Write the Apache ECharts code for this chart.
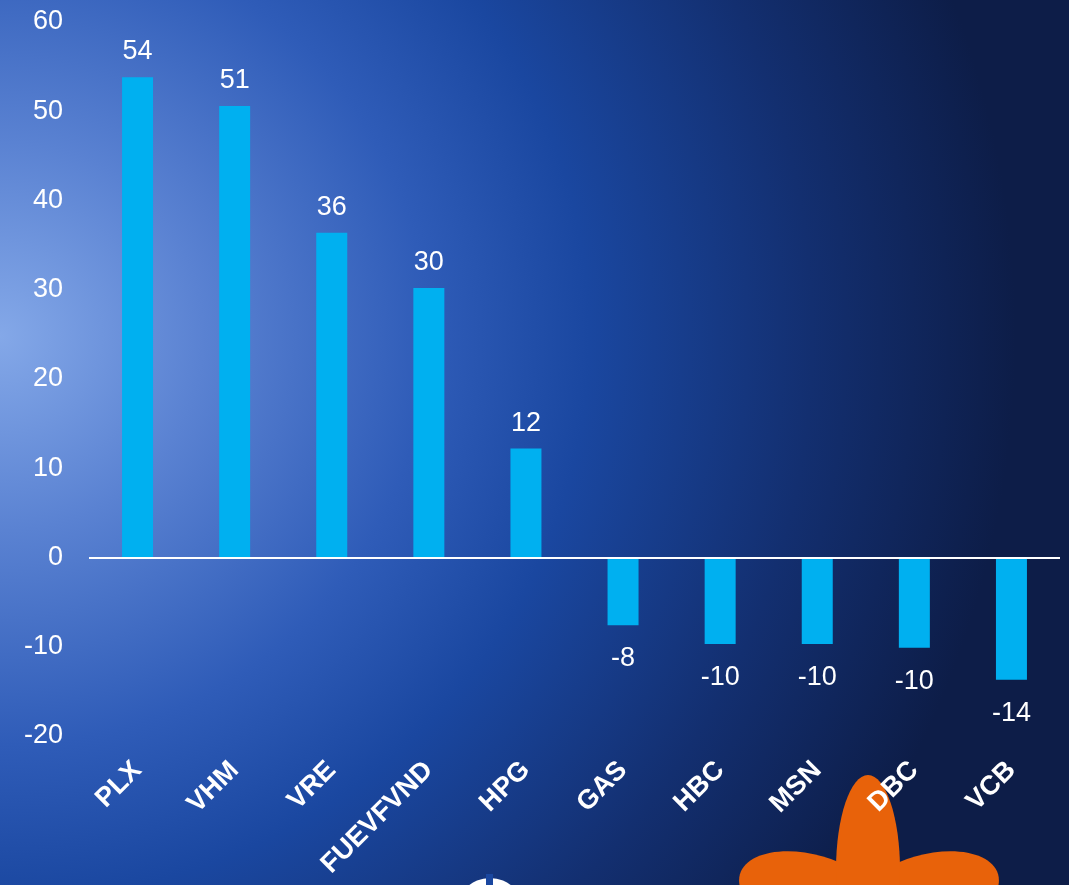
<!DOCTYPE html>
<html>
<head>
<meta charset="utf-8">
<script src="https://cdn.jsdelivr.net/npm/echarts@6/dist/echarts.min.js"></script>
<style>
html,body{margin:0;padding:0;width:1069px;height:885px;overflow:hidden;}
#chart{width:1069px;height:885px;
background: radial-gradient(ellipse 95% 110% at 0% 38%, #84a8e8 0%, #5a82d2 20%, #2f5cb8 42%, #1a47a0 58%, #132f70 80%, #0d1d48 100%);}
</style>
</head>
<body>
<div id="chart"></div>
<script>
const categories = ['PLX','VHM','VRE','FUEVFVND','HPG','GAS','HBC','MSN','DBC','VCB'];
const values = [53.8, 50.6, 36.4, 30.2, 12.2, -7.6, -9.7, -9.7, -10.1, -13.7];
const yTicks = {min: -20, max: 60, interval: 10};

const chart = echarts.init(document.getElementById('chart'), null, {renderer: 'canvas'});
const FONT = '"Liberation Sans", Arial, sans-serif';

const seriesData = values.map(v => ({
  value: v,
  label: v >= 0 ? {position: 'top', distance: 12} : {position: 'bottom', distance: 20}
}));

chart.setOption({
  backgroundColor: 'transparent',
  animation: false,
  grid: {left: 89, right: 9, top: 22, bottom: 149, containLabel: false},
  xAxis: {
    type: 'category',
    data: categories,
    axisLine: {show: false, onZero: false},
    axisTick: {show: false},
    axisLabel: {
      rotate: 45, margin: 30, color: '#ffffff', fontSize: 27, fontWeight: 'bold',
      fontFamily: FONT, interval: 0
    }
  },
  yAxis: {
    type: 'value',
    min: yTicks.min, max: yTicks.max, interval: yTicks.interval,
    axisLine: {show: false},
    axisTick: {show: false},
    splitLine: {show: false},
    axisLabel: {color: '#ffffff', fontSize: 27, fontFamily: FONT, margin: 26}
  },
  graphic: [
    {type: 'ellipse', shape: {cx: 0, cy: 0, rx: 75, ry: 40}, x: 812, y: 895, rotation: -0.28,
     style: {fill: '#e8620a'}, z: 0},
    {type: 'ellipse', shape: {cx: 0, cy: 0, rx: 75, ry: 40}, x: 926, y: 895, rotation: 0.28,
     style: {fill: '#e8620a'}, z: 0},
    {type: 'ellipse', shape: {cx: 0, cy: 0, rx: 32, ry: 95}, x: 868, y: 870,
     style: {fill: '#e8620a'}, z: 0},
    {type: 'circle', shape: {cx: 490, cy: 912, r: 34}, style: {fill: '#ffffff'}, z: 0},
    {type: 'rect', shape: {x: 486, y: 874, width: 7, height: 20}, style: {fill: '#1a47a0'}, z: 0}
  ],
  series: [{
    type: 'bar',
    data: seriesData,
    barWidth: 31,
    itemStyle: {color: '#00b0f0'},
    label: {
      show: true, color: '#ffffff', fontSize: 27, fontFamily: FONT,
      formatter: p => Math.round(p.value)
    },
    markLine: {
      silent: true, symbol: 'none',
      label: {show: false},
      lineStyle: {color: '#ffffff', width: 2, type: 'solid'},
      data: [{yAxis: 0}]
    },
    z: 2
  }]
});
</script>
</body>
</html>
